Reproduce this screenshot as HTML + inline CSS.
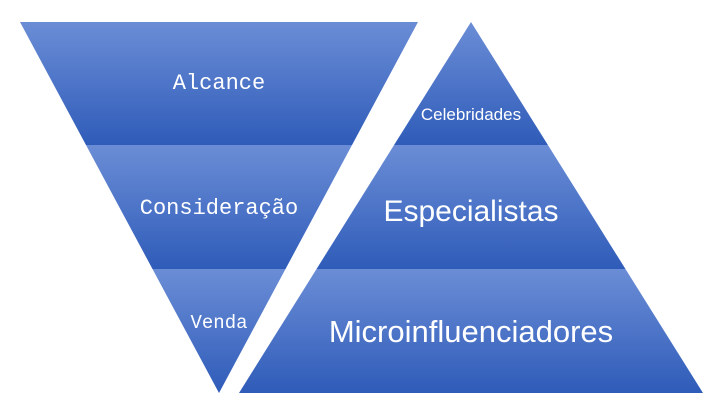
<!DOCTYPE html>
<html><head><meta charset="utf-8"><style>html,body{margin:0;padding:0;background:#fff}svg{display:block}</style></head><body>
<svg width="720" height="405" viewBox="0 0 720 405" xmlns="http://www.w3.org/2000/svg">
<defs>
<linearGradient id="g1" x1="0" y1="0" x2="0" y2="1"><stop offset="0" stop-color="#6b8dd6"/><stop offset="1" stop-color="#2f5cb9"/></linearGradient>
<clipPath id="cl"><polygon points="20,22 418,22 219,393"/></clipPath>
<clipPath id="cr"><polygon points="471,22 703,393 239,393"/></clipPath>
</defs>
<g clip-path="url(#cl)">
<rect x="0" y="22" width="440" height="123" fill="url(#g1)"/>
<rect x="0" y="145" width="440" height="124" fill="url(#g1)"/>
<rect x="0" y="269" width="440" height="124" fill="url(#g1)"/>
</g>
<g clip-path="url(#cr)">
<rect x="230" y="22" width="480" height="123" fill="url(#g1)"/>
<rect x="230" y="145" width="480" height="124" fill="url(#g1)"/>
<rect x="230" y="269" width="480" height="124" fill="url(#g1)"/>
</g>
<g fill="#fff" font-family="'Liberation Mono', monospace" text-anchor="middle">
<text x="219" y="89" font-size="22">Alcance</text>
<text x="219" y="214" font-size="22">Consideração</text>
<text x="219" y="328" font-size="19">Venda</text>
</g>
<g fill="#fff" font-family="'Liberation Sans', sans-serif" text-anchor="middle">
<text x="471" y="120" font-size="17">Celebridades</text>
<text x="471" y="221" font-size="30">Especialistas</text>
<text x="471" y="342" font-size="31">Microinfluenciadores</text>
</g>
</svg>
</body></html>
